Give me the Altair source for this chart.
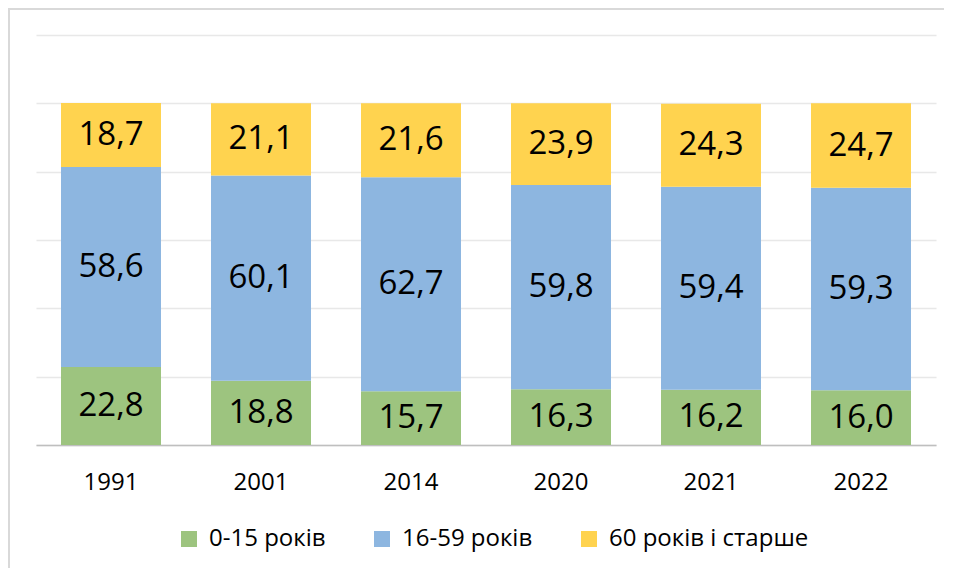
import altair as alt
import pandas as pd

years = ["1991", "2001", "2014", "2020", "2021", "2022"]
group_names = ["0-15 років", "16-59 років", "60 років і старше"]
young = [22.8, 18.8, 15.7, 16.3, 16.2, 16.0]
working = [58.6, 60.1, 62.7, 59.8, 59.4, 59.3]
old = [18.7, 21.1, 21.6, 23.9, 24.3, 24.7]
colors = ["#9DC47F", "#8DB6E0", "#FFD34F"]

rows = []
for i, y in enumerate(years):
    for k, (g, vals) in enumerate(zip(group_names, [young, working, old])):
        v = vals[i]
        rows.append({"year": y, "group": g, "order": k, "value": v,
                     "label": f"{v:.1f}".replace(".", ",")})
df = pd.DataFrame(rows)

FONT = "Open Sans"

base = alt.Chart(df).transform_stack(
    stack="value", groupby=["year"], as_=["y0", "y1"],
    sort=[alt.SortField("order", order="ascending")]
).transform_calculate(mid="(datum.y0 + datum.y1) / 2")

xenc = alt.X("year:N", sort=years, title=None,
             scale=alt.Scale(paddingInner=1/3, paddingOuter=1/6),
             axis=alt.Axis(labelAngle=0, labelFont=FONT, labelFontSize=24,
                           labelColor="#000000", labelPadding=25, ticks=False,
                           domainColor="#BFBFBF", domainWidth=1.5, grid=False))

bars = base.mark_bar(opacity=1).encode(
    x=xenc,
    y=alt.Y("y0:Q", title=None,
            scale=alt.Scale(domain=[0, 120], nice=False, zero=True),
            axis=alt.Axis(values=[0, 20, 40, 60, 80, 100, 120], labels=False,
                          ticks=False, domain=False, grid=True,
                          gridColor="#E8E8E8", gridWidth=1.5)),
    y2="y1:Q",
    color=alt.Color("group:N", sort=group_names,
                    scale=alt.Scale(domain=group_names, range=colors),
                    legend=alt.Legend(title=None, orient="none", direction="horizontal",
                                      legendX=141, legendY=492,
                                      symbolType="square", symbolSize=256,
                                      symbolStrokeWidth=0, symbolOpacity=1,
                                      labelFont=FONT, labelFontSize=24,
                                      labelColor="#000000", labelOffset=8,
                                      columnPadding=44, labelLimit=400)),
)

texts = base.mark_text(font=FONT, fontSize=33, color="#000000",
                       baseline="middle", align="center").encode(
    x=alt.X("year:N", sort=years),
    y=alt.Y("mid:Q"),
    text="label:N",
)

frame = alt.Chart(alt.Data(values=[{"a": 1}])).mark_rect(
    fill="transparent", stroke="#D9D9D9", strokeWidth=2
).encode(
    x=alt.value(-27), x2=alt.value(930), y=alt.value(-26), y2=alt.value(600)
)

chart = alt.layer(frame, bars, texts).properties(
    width=900, height=410,
    autosize=alt.AutoSizeParams(type="none"),
    padding={"left": 28, "top": 27, "right": 8, "bottom": 123},
).configure(background="#FFFFFF").configure_view(stroke="transparent", strokeWidth=0)

chart.save("out.html", embed_options={"renderer": "svg", "actions": False})
